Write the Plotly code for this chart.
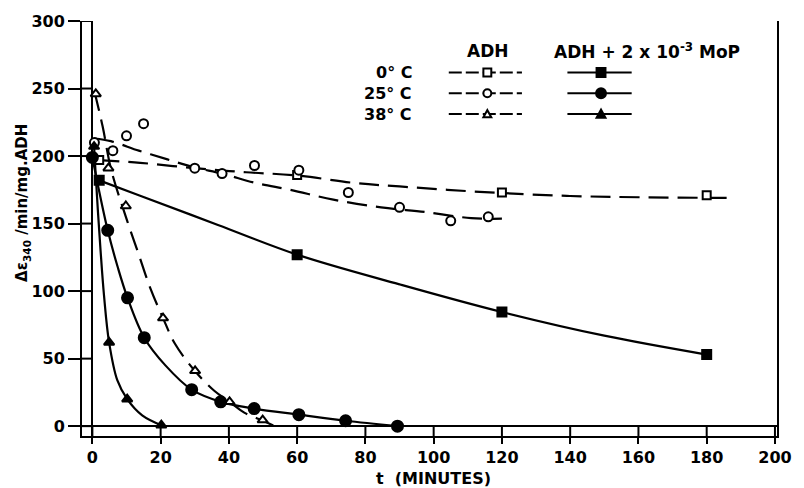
import plotly.graph_objects as go

# ---------------- data ----------------
# measured points
t_0c_adh = [2, 60, 120, 180]
v_0c_adh = [197, 186, 173, 171]
t_25c_adh = [0.6, 6, 10, 15, 30, 38, 47.5, 60.5, 75, 90, 105, 116]
v_25c_adh = [210, 204, 215, 224, 191, 187, 193, 189.5, 173, 162, 152, 155]
t_38c_adh = [1, 4.7, 9.8, 20.7, 30.1, 40.2, 49.9]
v_38c_adh = [246, 191, 163, 80, 41, 18, 4.5]

t_0c_mop = [2, 60, 120, 180]
v_0c_mop = [182, 127, 84.5, 53]
t_25c_mop = [0, 4.5, 10.3, 15.2, 29.1, 37.6, 47.4, 60.5, 74.2, 89.4]
v_25c_mop = [199, 145, 95, 65.5, 27, 18, 13, 8.5, 4, 0]
t_38c_mop = [0.5, 4.9, 10.2, 20.2]
v_38c_mop = [207, 62, 20, 0.7]

# drawn (smoothed) curves
ct_0c_adh = [2, 14, 30, 45, 60, 77, 90, 104, 120, 139, 160, 186]
cv_0c_adh = [197, 195, 191, 188, 185.6, 180, 177.5, 175, 172.6, 170.5, 169.5, 169]
ct_25c_adh = [0.6, 5.4, 13.6, 22, 30, 38, 48, 58, 70.6, 84.6, 97.7, 111, 120]
cv_25c_adh = [213, 211, 204, 197.5, 191.5, 187, 180, 175, 167.7, 162, 158.5, 154, 153.6]
ct_38c_adh = [0.6, 3.0, 5.5, 10.2, 13.6, 17, 20.7, 24.2, 30, 35.8, 40.2, 44.5, 50, 53]
cv_38c_adh = [248, 222, 190, 152, 127, 102, 80, 61, 41, 26, 18, 10, 4, 0.5]

ct_0c_mop = [2, 13.6, 36.8, 60, 90, 120, 150, 180]
cv_0c_mop = [182, 171, 149, 127, 105, 84.5, 67, 53]
ct_25c_mop = [0, 1.5, 4.5, 7.4, 10.3, 15.2, 21.4, 29.1, 37.6, 47.4, 60.5, 74.2, 89.4]
cv_25c_mop = [199, 180, 145, 118, 95, 65.5, 45, 27, 18, 13, 8.5, 4, 0]
ct_38c_mop = [0.5, 1.0, 1.6, 2.4, 3.4, 4.9, 7.3, 10.2, 14.6, 20.2]
cv_38c_mop = [207, 185, 160, 130, 97, 62, 34, 20, 8, 0.7]

x_ticks = [0, 20, 40, 60, 80, 100, 120, 140, 160, 180, 200]
y_ticks = [0, 50, 100, 150, 200, 250, 300]
row_labels = ["0° C", "25° C", "38° C"]

# ---------------- layout geometry ----------------
W, H = 804, 488
L, R, T, B = 82, 19, 17, 52
pw, ph = W - L - R, H - T - B
X_RANGE = [-3.04, 200.6]
Y_RANGE = [-7.3, 300]


def px(x):
    return (x - L) / pw


def py(y):
    return (H - B - y) / ph


FONT = "DejaVu Sans"
DASH = "20px,9px"
LW = 2.2

fig = go.Figure()


def curve(t, v, dash):
    fig.add_trace(go.Scatter(x=t, y=v, mode="lines",
                             line=dict(color="black", width=LW, dash=dash,
                                       shape="spline", smoothing=1.0),
                             showlegend=False, hoverinfo="skip"))


def pts(t, v, symbol, size, filled):
    fig.add_trace(go.Scatter(x=t, y=v, mode="markers",
                             marker=dict(symbol=symbol, size=size,
                                         color="black" if filled else "white",
                                         line=dict(color="black", width=2)),
                             showlegend=False))


curve(ct_0c_adh, cv_0c_adh, DASH)
curve(ct_25c_adh, cv_25c_adh, DASH)
curve(ct_38c_adh, cv_38c_adh, DASH)
curve(ct_0c_mop, cv_0c_mop, "solid")
curve(ct_25c_mop, cv_25c_mop, "solid")
curve(ct_38c_mop, cv_38c_mop, "solid")

pts(t_0c_adh, v_0c_adh, "square", 8, False)
pts(t_25c_adh, v_25c_adh, "circle", 9, False)
pts(t_38c_adh, v_38c_adh, "triangle-up", 9, False)
pts(t_0c_mop, v_0c_mop, "square", 9, True)
pts(t_25c_mop, v_25c_mop, "circle", 11, True)
pts(t_38c_mop, v_38c_mop, "triangle-up", 9, True)

shapes = []
# tick marks crossing the double frame lines
for yt in y_ticks:
    shapes.append(dict(type="line", xref="paper", yref="y", x0=0, x1=px(93),
                       y0=yt, y1=yt, line=dict(color="black", width=2)))
for xt in x_ticks:
    shapes.append(dict(type="line", xref="x", yref="paper", x0=xt, x1=xt,
                       y0=0, y1=py(426), line=dict(color="black", width=2)))

# legend keys
row_y = [69, 90, 111]
adh_sym = ["square", "circle", "triangle"]
mop_sym = ["square", "circle", "triangle"]


def key_marker(kind, cx, cy, r, filled):
    fill = "black" if filled else "white"
    common = dict(xref="paper", yref="paper", fillcolor=fill,
                  line=dict(color="black", width=2))
    if kind == "square":
        return dict(type="rect", x0=px(cx - r), x1=px(cx + r),
                    y0=py(cy + r), y1=py(cy - r), **common)
    if kind == "circle":
        return dict(type="circle", x0=px(cx - r), x1=px(cx + r),
                    y0=py(cy + r), y1=py(cy - r), **common)
    path = "M{},{} L{},{} L{},{} Z".format(px(cx - r), py(cy + r * 0.8),
                                           px(cx + r), py(cy + r * 0.8),
                                           px(cx), py(cy - r))
    return dict(type="path", path=path, **common)


BOLD = dict(family=FONT, color="black", weight="bold")
annotations = []
for i, ry in enumerate(row_y):
    shapes.append(dict(type="line", xref="paper", yref="paper",
                       x0=px(453), x1=px(527), y0=py(ry), y1=py(ry),
                       line=dict(color="black", width=2, dash="13px,4px")))
    shapes.append(dict(type="line", xref="paper", yref="paper",
                       x0=px(573), x1=px(638), y0=py(ry), y1=py(ry),
                       line=dict(color="black", width=2)))
    shapes.append(key_marker(adh_sym[i], 492, ry, 4, False))
    shapes.append(key_marker(mop_sym[i], 607, ry, 5 if i == 1 else 4.5, True))
    annotations.append(dict(text=row_labels[i], xref="paper", yref="paper",
                            x=px(418), y=py(ry), xanchor="right", yanchor="middle",
                            showarrow=False, font=dict(size=16, **BOLD)))

annotations.append(dict(text="ADH", xref="paper", yref="paper", x=px(493), y=py(47),
                        xanchor="center", yanchor="middle", showarrow=False,
                        font=dict(size=17, **BOLD)))
annotations.append(dict(text="ADH + 2 x 10<sup>-3</sup> MoP", xref="paper", yref="paper",
                        x=px(654), y=py(47), xanchor="center", yanchor="middle",
                        showarrow=False, font=dict(size=17, **BOLD)))
# axis titles
annotations.append(dict(text="t  (MINUTES)", xref="paper", yref="paper",
                        x=px(438), y=py(479), xanchor="center", yanchor="middle",
                        showarrow=False, font=dict(size=16, **BOLD)))
annotations.append(dict(text="Δε<sub>340</sub> /min/mg.ADH", xref="paper", yref="paper",
                        x=px(22), y=py(201), xanchor="center", yanchor="middle",
                        textangle=-90, showarrow=False, font=dict(size=15, **BOLD)))

tickfont = dict(size=16, **BOLD)
fig.update_layout(
    width=W, height=H,
    margin=dict(l=L, r=R, t=T, b=B, pad=0),
    paper_bgcolor="white", plot_bgcolor="white",
    showlegend=False,
    shapes=shapes, annotations=annotations,
    xaxis=dict(range=X_RANGE, tickvals=x_ticks, ticks="outside", ticklen=6,
               tickwidth=2, tickcolor="black", showline=True, linecolor="black",
               linewidth=2, mirror=False, showgrid=False, zeroline=True,
               zerolinecolor="black", zerolinewidth=2, tickfont=tickfont),
    yaxis=dict(range=Y_RANGE, tickvals=y_ticks, ticks="outside", ticklen=12,
               tickwidth=2, tickcolor="black", showline=True, linecolor="black",
               linewidth=2, mirror=True, showgrid=False, zeroline=True,
               zerolinecolor="black", zerolinewidth=2, tickfont=tickfont),
)

fig.write_html("out.html")
